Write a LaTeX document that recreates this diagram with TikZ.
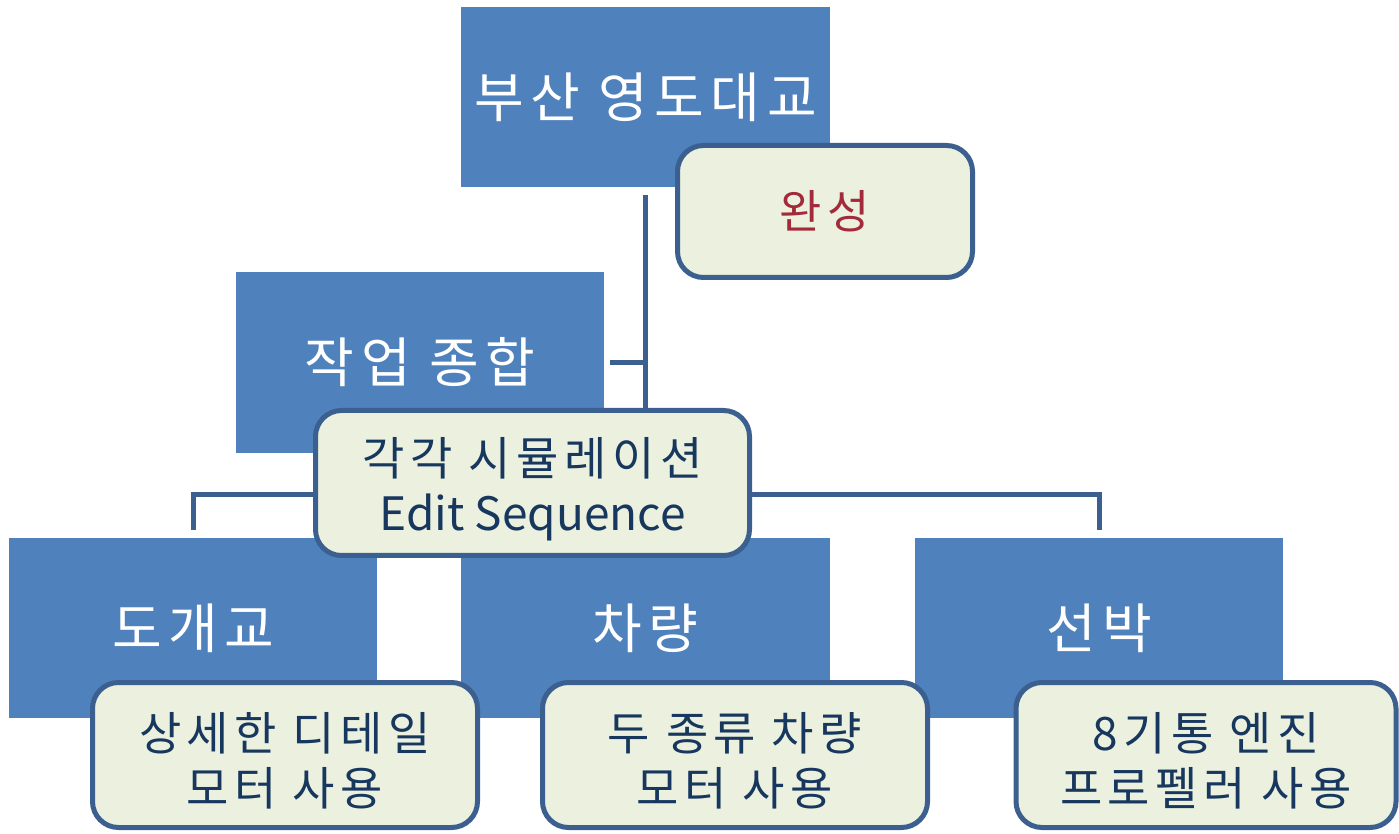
\documentclass[tikz,border=0pt]{standalone}
\usepackage{fontspec}
\setmainfont[LetterSpace=12]{Noto Sans CJK KR}
\newfontfamily\latinfont{Noto Sans CJK KR}
\definecolor{boxblue}{HTML}{4F81BD}
\definecolor{lineblue}{HTML}{3B6090}
\definecolor{notegreen}{HTML}{EBF1DE}
\definecolor{textdark}{HTML}{17375E}
\definecolor{textred}{HTML}{A32A3A}
\newcommand\lowerby{\rule{0pt}{50pt}}
\tikzset{
  bluebox/.style={rectangle, fill=boxblue, draw=none, text=white, align=center,
    inner sep=0pt, font=\fontsize{54}{64}\selectfont},
  notebox/.style={rectangle, rounded corners=26pt, fill=notegreen, draw=lineblue,
    line width=5pt, text=textdark, align=center, inner sep=0pt,
    font=\fontsize{46}{55}\selectfont},
  conn/.style={draw=lineblue, line width=5pt}
}
\begin{document}
\begin{tikzpicture}[x=1pt,y=1pt]
\useasboundingbox (0,0) rectangle (1399,833);
% blue boxes
\node[bluebox, minimum width=369pt, minimum height=180pt] (top) at (645.5,736) {부산 영도대교};
\node[bluebox, minimum width=368pt, minimum height=181pt] (zs) at (420,470.5) {작업 종합};
\node[bluebox, minimum width=368pt, minimum height=180pt] (dg) at (193,205) {도개교};
\node[bluebox, minimum width=369pt, minimum height=180pt] (cr) at (645.5,205) {차량};
\node[bluebox, minimum width=368pt, minimum height=180pt] (sb) at (1099,205) {선박};
% connectors
\draw[conn, shorten <=8pt] (top.south) -- (top.south |- 0,425);
\coordinate (vjoin) at (645.5,470.5);
\draw[conn, shorten <=6pt] (zs.east) -- (vjoin);
\draw[conn, shorten <=8pt, shorten >=8pt] (dg.north) -- ++(0,43) -| (sb.north);
% note boxes
\node[notebox, minimum width=295pt, minimum height=132pt, text=textred] (wc) at (825,621.5) {완성};
\node[notebox, minimum width=434pt, minimum height=145pt] (es) at (532.5,350) {\lowerby 각각 시뮬레이션\\{\latinfont Edit Sequence}};
\node[notebox, minimum width=385pt, minimum height=145pt] (n1) at (285,78) {\lowerby 상세한 디테일\\모터 사용};
\node[notebox, minimum width=385pt, minimum height=145pt] (n2) at (735,78) {\lowerby 두 종류 차량\\모터 사용};
\node[notebox, minimum width=380pt, minimum height=145pt] (n3) at (1206,78) {\lowerby 8기통 엔진\\프로펠러 사용};
\end{tikzpicture}
\end{document}
